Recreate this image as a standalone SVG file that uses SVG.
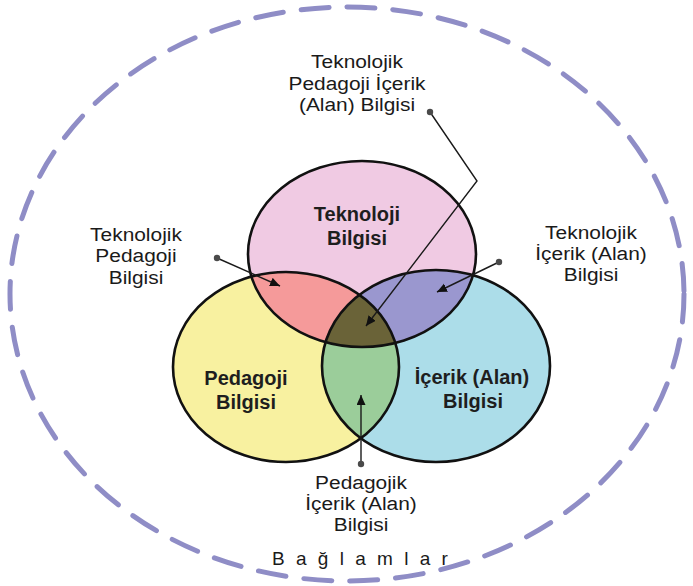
<svg xmlns="http://www.w3.org/2000/svg" width="693" height="586" viewBox="0 0 693 586">
<style>
.lbl{font-family:"Liberation Sans",Arial,sans-serif;font-size:19px;fill:#1a1a1a;text-anchor:middle}
.in{font-family:"Liberation Sans",Arial,sans-serif;font-size:20px;font-weight:bold;fill:#1e1e1e;text-anchor:middle}
.ring{fill:none;stroke:#111;stroke-width:2.6}
.con{fill:none;stroke:#1a1a1a;stroke-width:1.4}
.dot{fill:#4a4a4a}
</style>
<defs>
<marker id="ah" markerUnits="userSpaceOnUse" markerWidth="12" markerHeight="10" refX="10" refY="4.5" orient="auto">
<path d="M0,0 L10,4.5 L0,9 Z" fill="#111"/>
</marker>
<clipPath id="cT"><ellipse cx="362" cy="254" rx="114" ry="93"/></clipPath>
<clipPath id="cL"><ellipse cx="286" cy="367" rx="113" ry="95"/></clipPath>
<clipPath id="cR"><ellipse cx="436" cy="366" rx="114" ry="96"/></clipPath>
</defs>
<rect width="693" height="586" fill="#fff"/>
<g id="baglamlar">
<ellipse cx="347" cy="294" rx="337" ry="287" fill="none" stroke="#8f8dc6" stroke-width="5" stroke-dasharray="28 18" stroke-linecap="round"/>
<text x="272" y="565" font-family="Liberation Sans,Arial,sans-serif" font-size="19" fill="#1a1a1a" letter-spacing="11.3">Bağlamlar</text>
</g>
<g id="venn-fills">
<ellipse cx="362" cy="254" rx="114" ry="93" fill="#f0cae3"/>
<ellipse cx="286" cy="367" rx="113" ry="95" fill="#f8f1a0"/>
<ellipse cx="436" cy="366" rx="114" ry="96" fill="#acdde9"/>
<g clip-path="url(#cL)"><ellipse cx="362" cy="254" rx="114" ry="93" fill="#f59a9a"/></g>
<g clip-path="url(#cR)"><ellipse cx="362" cy="254" rx="114" ry="93" fill="#9a97cf"/></g>
<g clip-path="url(#cR)"><ellipse cx="286" cy="367" rx="113" ry="95" fill="#9bcd9a"/></g>
<g clip-path="url(#cR)"><g clip-path="url(#cL)"><ellipse cx="362" cy="254" rx="114" ry="93" fill="#6a6338"/></g></g>
</g>
<g id="teknoloji">
<ellipse class="ring" cx="362" cy="254" rx="114" ry="93"/>
<text class="in" x="357" y="221">Teknoloji</text>
<text class="in" x="357" y="245">Bilgisi</text>
</g>
<g id="pedagoji">
<ellipse class="ring" cx="286" cy="367" rx="113" ry="95"/>
<text class="in" x="246" y="385">Pedagoji</text>
<text class="in" x="246" y="409">Bilgisi</text>
</g>
<g id="icerik">
<ellipse class="ring" cx="436" cy="366" rx="114" ry="96"/>
<text class="in" x="472" y="384">İçerik (Alan)</text>
<text class="in" x="473" y="408">Bilgisi</text>
</g>
<g id="tpack-label" transform="translate(357 0) scale(1.1 1) translate(-357 0)">
<text class="lbl" x="357" y="68">Teknolojik</text>
<text class="lbl" x="357" y="90">Pedagoji İçerik</text>
<text class="lbl" x="357" y="111">(Alan) Bilgisi</text>
</g>
<g id="tpk-label" transform="translate(136 0) scale(1.1 1) translate(-136 0)">
<text class="lbl" x="136" y="241">Teknolojik</text>
<text class="lbl" x="136" y="262">Pedagoji</text>
<text class="lbl" x="136" y="284">Bilgisi</text>
</g>
<g id="tck-label" transform="translate(591 0) scale(1.1 1) translate(-591 0)">
<text class="lbl" x="591" y="239">Teknolojik</text>
<text class="lbl" x="591" y="260">İçerik (Alan)</text>
<text class="lbl" x="591" y="281">Bilgisi</text>
</g>
<g id="pck-label" transform="translate(361 0) scale(1.1 1) translate(-361 0)">
<text class="lbl" x="361" y="489">Pedagojik</text>
<text class="lbl" x="361" y="510">İçerik (Alan)</text>
<text class="lbl" x="361" y="531">Bilgisi</text>
</g>
<g id="connectors">
<polyline class="con" points="430,112 477,181 366,326" marker-end="url(#ah)"/>
<line class="con" x1="217" y1="258" x2="280" y2="286" marker-end="url(#ah)"/>
<line class="con" x1="499" y1="262" x2="437" y2="292" marker-end="url(#ah)"/>
<line class="con" x1="361" y1="464" x2="361" y2="395" marker-end="url(#ah)"/>
<circle class="dot" cx="430" cy="112" r="3.2"/>
<circle class="dot" cx="217" cy="258" r="3.2"/>
<circle class="dot" cx="499" cy="262" r="3.2"/>
<circle class="dot" cx="361" cy="464" r="3.2"/>
</g>
</svg>
